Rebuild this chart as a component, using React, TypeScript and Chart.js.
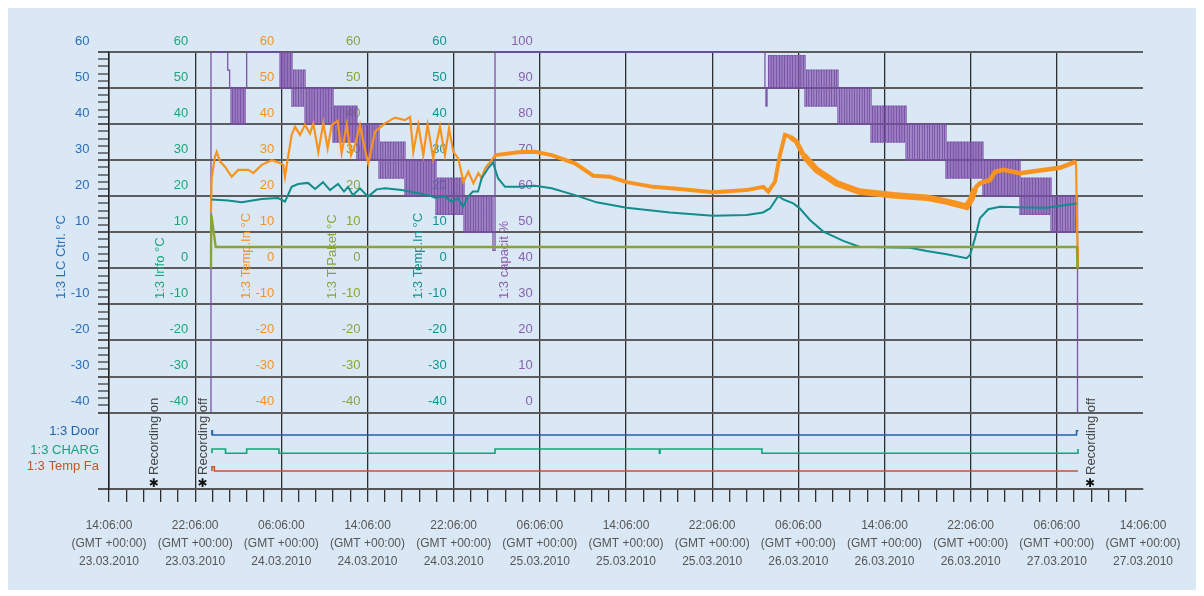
import React, { useEffect, useRef } from 'react';
import { Chart, registerables } from 'chart.js';

Chart.register(...registerables);

const FONT = "'Liberation Sans', Arial, Helvetica, sans-serif";

// x values: hours after 23.03.2010 14:06:00 (GMT +00:00)
const X_TICK_TIMES = ['14:06:00', '22:06:00', '06:06:00', '14:06:00', '22:06:00', '06:06:00', '14:06:00', '22:06:00', '06:06:00', '14:06:00', '22:06:00', '06:06:00', '14:06:00'];
const X_TICK_DATES = ['23.03.2010', '23.03.2010', '24.03.2010', '24.03.2010', '24.03.2010', '25.03.2010', '25.03.2010', '25.03.2010', '26.03.2010', '26.03.2010', '26.03.2010', '27.03.2010', '27.03.2010'];
const X_TZ = '(GMT +00:00)';
const TEMP_TICKS = [-40, -30, -20, -10, 0, 10, 20, 30, 40, 50, 60];
const CAP_TICKS = [0, 10, 20, 30, 40, 50, 60, 70, 80, 90, 100];

// 1:3 Temp.In °C (orange)
const orangeX = [9.47, 9.53, 9.84, 10.0, 10.31, 10.77, 11.39, 12.0, 12.93, 13.4,
  14.18, 15.11, 15.72, 16.18, 16.34, 16.65, 16.96, 17.27, 17.73, 18.2,
  18.66, 18.97, 19.43, 19.9, 20.3, 20.68, 21.23, 21.6, 22.07, 22.47,
  22.84, 23.3, 23.61, 24.07, 24.7, 25.62, 26.55, 27.48, 27.95, 28.25,
  28.72, 29.18, 29.58, 30.1, 30.73, 31.19, 31.57, 31.97, 32.43, 32.9,
  33.36, 33.83, 34.29, 34.61, 34.91, 35.53, 35.84, 38.0, 39.55, 41.1,
  43.26, 44.96, 46.51, 48.06, 50.53, 53.01, 56.1, 59.2, 60.74, 61.21,
  61.83, 62.29, 62.76, 63.22, 63.84, 64.46, 65.7, 67.55, 69.66, 72.81,
  75.91, 77.77, 79.62, 80.09, 80.4, 80.86, 81.79, 82.26, 83.03, 84.58,
  86.74, 88.29, 89.78, 89.92, 89.96];
const orangeY = [15.6, 25.0, 31.0, 32.3, 29.6, 28.2, 25.4, 27.3, 27.3, 26.4,
  28.7, 30.0, 29.4, 28.7, 25.4, 31.4, 37.0, 39.3, 37.0, 39.8,
  37.4, 40.2, 32.3, 40.2, 33.3, 39.8, 40.9, 31.9, 39.8, 31.4,
  34.2, 39.8, 35.1, 29.1, 37.9, 40.2, 41.8, 41.1, 42.0, 32.3,
  39.8, 31.4, 39.8, 30.5, 39.3, 31.4, 38.8, 32.3, 30.5, 24.0,
  26.8, 23.6, 26.4, 25.0, 27.7, 30.0, 31.4, 32.2, 32.3, 31.4,
  29.1, 25.7, 25.4, 23.9, 22.6, 22.0, 21.1, 21.7, 22.6, 21.3,
  24.0, 31.4, 37.0, 36.5, 35.1, 31.4, 27.3, 23.6, 21.3, 20.3,
  19.6, 18.5, 17.1, 19.4, 22.2, 23.6, 24.5, 26.8, 27.3, 26.4,
  27.3, 27.9, 29.6, 6.0, 0];

// 1:3 Temp.In °C (teal)
const tealX = [9.52, 11.05, 12.32, 14.18, 15.69, 16.34, 16.96, 17.55, 18.48, 19.13,
  19.87, 20.52, 21.26, 21.82, 22.19, 22.65, 23.3, 24.05, 24.85, 25.62,
  27.17, 28.69, 29.62, 30.27, 31.19, 31.82, 32.4, 32.87, 33.33, 33.79,
  34.26, 34.6, 35.19, 35.65, 36.12, 36.77, 37.97, 39.55, 41.1, 43.26,
  45.27, 48.06, 52.08, 56.07, 59.2, 60.72, 61.37, 62.14, 62.6, 63.53,
  64.15, 65.08, 66.32, 68.17, 69.66, 74.37, 75.91, 77.77, 79.62, 79.93,
  80.4, 80.86, 81.63, 82.72, 85.2, 87.05, 89.84];
const tealY = [19.1, 18.8, 18.3, 19.2, 19.5, 18.5, 22.6, 23.4, 23.7, 22.0,
  23.9, 21.7, 23.4, 21.3, 22.6, 20.3, 22.2, 19.9, 21.9, 22.2,
  21.7, 20.8, 20.3, 19.6, 19.9, 18.5, 19.4, 17.1, 19.9, 21.3,
  21.3, 25.0, 27.7, 29.4, 25.0, 22.6, 22.6, 22.9, 22.2, 20.3,
  18.3, 16.8, 15.5, 14.6, 14.8, 15.5, 16.6, 20.1, 19.1, 18.0,
  16.6, 13.4, 10.2, 7.6, 6.0, 5.7, 4.8, 3.9, 2.8, 3.7,
  8.3, 13.9, 16.4, 17.1, 16.9, 16.8, 18.0];

// 1:3 T-Paket °C (olive)
const paketX = [9.47, 9.49, 9.91, 89.87, 89.92];
const paketY = [0, 15.0, 5.9, 5.9, 0];

// 1:3 capacit % : single switch events (hour, new value)
const capEventX = [9.47, 9.47, 11.02, 11.2, 12.78, 35.65, 35.84, 60.9, 61.0, 89.92];
const capEventY = [0, 100, 95, 90, 100, 45, 100, 90, 85, 0];
// 1:3 capacit % : cycling bands (start hour, end hour, low %, high %, number of switches)
const capBandStart = [11.33, 15.88, 16.99, 18.2, 20.8, 23.02, 25.07, 27.48, 30.36, 32.96, 61.09, 64.62, 67.68, 70.75, 74.0, 77.71, 81.14, 84.58, 87.46];
const capBandEnd = [12.78, 16.99, 18.2, 20.8, 23.02, 25.07, 27.48, 30.36, 32.96, 35.65, 64.62, 67.68, 70.75, 74.0, 77.71, 81.14, 84.58, 87.46, 89.87];
const capBandLow = [80, 90, 85, 80, 75, 70, 65, 60, 55, 50, 90, 85, 80, 75, 70, 65, 60, 55, 50];
const capBandHigh = [90, 100, 95, 90, 85, 80, 75, 70, 65, 60, 99, 95, 90, 85, 80, 75, 70, 65, 60];
const capBandSwitches = [10, 8, 8, 18, 16, 14, 16, 20, 18, 18, 24, 20, 20, 22, 24, 24, 24, 20, 16];

// digital channels: switch events (hour, state 0/1)
const doorX = [9.56, 9.56, 9.6, 89.83, 90.0];
const doorS = [0, 1, 0, 1, 1];
const chargX = [9.56, 9.56, 10.82, 12.78, 15.78, 35.84, 51.1, 51.16, 60.62, 89.96];
const chargS = [0, 1, 0, 1, 0, 1, 0, 1, 0, 1];
const tempFaX = [9.56, 9.56, 9.78, 89.96];
const tempFaS = [0, 1, 0, 0];

// recording markers
const recX = [4.15, 8.68, 91.08];
const recLabel = ['Recording on', 'Recording off', 'Recording off'];

// ---- styles / layout constants ----
const BG = '#dae8f5';
const BLUE = '#2a6fb7';
const GREEN = '#1fa57b';
const ORANGE = '#f7931e';
const OLIVE = '#8aa338';
const TEAL = '#128d8c';
const DOOR_C = '#2262ad';
const CHARG_C = '#19a27a';
const FA_C = '#c2552e';
const X_MAX = 96;
const X_MINOR = 1.6;
const Y_MIN = -61.2;
const Y_MAX = 60;
const CAP_MIN = -21.2;
const CAP_MAX = 100;
const DIG_MAX = 437;
const DOOR_BASE = 54;
const CHARG_BASE = 35.7;
const FA_BASE = 18;
const DIG_HIGH = 4.3;

const pts = (xs: number[], ys: number[]) => xs.map((x, i) => ({ x, y: ys[i] }));
const digPts = (xs: number[], ss: number[], base: number) => xs.map((x, i) => ({ x, y: base + ss[i] * DIG_HIGH }));

function capPoints() {
  const out: { x: number; y: number }[] = pts(capEventX, capEventY);
  capBandStart.forEach((s, b) => {
    const n = capBandSwitches[b];
    const dt = (capBandEnd[b] - s) / n;
    for (let k = 0; k < n; k++) out.push({ x: s + k * dt, y: k % 2 === 0 ? capBandLow[b] : capBandHigh[b] });
  });
  return out.map((p, i) => ({ ...p, i })).sort((a, b) => a.x - b.x || a.i - b.i).map(({ x, y }) => ({ x, y }));
}

const EXTRA_AXES = [
  { title: '1:3 Info °C', color: GREEN, at: 8, values: TEMP_TICKS, scale: 'y' },
  { title: '1:3 Temp.In °C', color: '#f39325', at: 16, values: TEMP_TICKS, scale: 'y' },
  { title: '1:3 T-Paket °C', color: '#8aa43a', at: 24, values: TEMP_TICKS, scale: 'y' },
  { title: '1:3 Temp.In °C', color: '#16918f', at: 32, values: TEMP_TICKS, scale: 'y' },
  { title: '1:3 capacit %', color: '#8a5fae', at: 40, values: CAP_TICKS, scale: 'yCap' },
];

const bgPlugin = {
  id: 'bgFill',
  beforeDraw(chart: any) {
    const { ctx, width, height } = chart;
    ctx.save();
    ctx.fillStyle = BG;
    ctx.fillRect(0, 0, width, height);
    ctx.restore();
  },
};

function rotText(ctx: any, text: string, x: number, y: number) {
  ctx.save();
  ctx.translate(x, y);
  ctx.rotate(-Math.PI / 2);
  ctx.textAlign = 'left';
  ctx.textBaseline = 'middle';
  ctx.fillText(text, 0, 0);
  ctx.restore();
}

const axesTextPlugin = {
  id: 'axesText',
  beforeDatasetsDraw(chart: any) {
    const { ctx } = chart;
    const xs = chart.scales.x;
    ctx.save();
    ctx.font = `13px ${FONT}`;
    ctx.fillStyle = BLUE;
    rotText(ctx, '1:3 LC Ctrl. °C', 54, 295);
    EXTRA_AXES.forEach((a) => {
      const sc = chart.scales[a.scale];
      const gx = xs.getPixelForValue(a.at);
      ctx.fillStyle = a.color;
      ctx.textAlign = 'right';
      ctx.textBaseline = 'middle';
      a.values.forEach((v) => ctx.fillText(String(v), gx - 7, sc.getPixelForValue(v) - 11));
      rotText(ctx, a.title, gx - 35, 295);
    });
    ctx.restore();
  },
  afterDatasetsDraw(chart: any) {
    const { ctx } = chart;
    const xs = chart.scales.x;
    const yd = chart.scales.yDig;
    ctx.save();
    ctx.font = `13px ${FONT}`;
    ctx.textAlign = 'right';
    ctx.textBaseline = 'middle';
    ctx.fillStyle = DOOR_C;
    ctx.fillText('1:3 Door', 92, yd.getPixelForValue(DOOR_BASE + DIG_HIGH) + 1);
    ctx.fillStyle = CHARG_C;
    ctx.fillText('1:3 CHARG', 92, yd.getPixelForValue(CHARG_BASE + DIG_HIGH) + 1);
    ctx.fillStyle = FA_C;
    ctx.fillText('1:3 Temp Fa', 92, yd.getPixelForValue(FA_BASE + DIG_HIGH));
    recX.forEach((t, i) => {
      const px = xs.getPixelForValue(t);
      ctx.fillStyle = '#444';
      ctx.font = `13px ${FONT}`;
      rotText(ctx, recLabel[i], px + 1, 471);
      ctx.fillStyle = '#111';
      ctx.font = `bold 12px 'DejaVu Sans', sans-serif`;
      ctx.textAlign = 'center';
      ctx.textBaseline = 'middle';
      ctx.fillText('✱', px, 480);
    });
    ctx.restore();
  },
};

const orangeWidth = (x: number) => (x >= 64.4 && x < 80.2 ? 6.5 : x >= 62.9 && x < 64.4 ? 5 : x >= 80.2 && x < 89.7 ? 4.5 : x >= 35.8 && x < 62.9 ? 4 : 2.2);

export default function App() {
  const ref = useRef<HTMLCanvasElement>(null);
  useEffect(() => {
    if (!ref.current) return;
    const chart = new Chart(ref.current, {
      type: 'line',
      data: {
        datasets: [
          { label: '1:3 T-Paket °C', data: pts(paketX, paketY), yAxisID: 'y', borderColor: OLIVE, borderWidth: 2.4 },
          { label: '1:3 Temp.In °C', data: pts(tealX, tealY), yAxisID: 'y', borderColor: TEAL, borderWidth: 2 },
          {
            label: '1:3 Temp.In °C (orange)', data: pts(orangeX, orangeY), yAxisID: 'y', borderColor: ORANGE, borderWidth: 2.2,
            segment: { borderWidth: (c: any) => orangeWidth(c.p0.parsed.x) },
          },
          { label: '1:3 capacit %', data: capPoints(), yAxisID: 'yCap', borderColor: 'rgba(120,76,165,0.95)', borderWidth: 1.3, stepped: true },
          { label: '1:3 Door', data: digPts(doorX, doorS, DOOR_BASE), yAxisID: 'yDig', borderColor: DOOR_C, borderWidth: 1.6, stepped: true },
          { label: '1:3 CHARG', data: digPts(chargX, chargS, CHARG_BASE), yAxisID: 'yDig', borderColor: CHARG_C, borderWidth: 1.6, stepped: true },
          { label: '1:3 Temp Fa', data: digPts(tempFaX, tempFaS, FA_BASE), yAxisID: 'yDig', borderColor: FA_C, borderWidth: 1.6, stepped: true },
        ],
      },
      options: {
        animation: false,
        responsive: false,
        events: [],
        layout: { padding: { top: 48, right: 55, left: 0, bottom: 0 } },
        elements: { point: { radius: 0 }, line: { tension: 0, fill: false } },
        plugins: { legend: { display: false }, tooltip: { enabled: false }, title: { display: false } },
        scales: {
          x: {
            type: 'linear', min: 0, max: X_MAX,
            afterBuildTicks: (s: any) => {
              const t: any[] = [];
              for (let i = 0; i <= Math.round(X_MAX / X_MINOR); i++) t.push({ value: Math.round(i * X_MINOR * 1000) / 1000 });
              s.ticks = t;
            },
            afterFit: (s: any) => { s.height = 101; },
            grid: {
              color: (c: any) => (c.index % 5 === 0 && c.index < 60 ? '#2e2e2e' : 'rgba(0,0,0,0)'),
              lineWidth: 1.3,
              tickColor: (c: any) => (c.index >= 60 ? 'rgba(0,0,0,0)' : '#2e2e2e'),
              tickWidth: 1.3,
              tickLength: 13,
            },
            border: { display: true, color: '#555', width: 2 },
            ticks: {
              autoSkip: false, maxRotation: 0, minRotation: 0, padding: 15, color: '#555',
              font: { family: FONT, size: 12, lineHeight: '18px' },
              callback: (_v: any, i: number) => (i % 5 === 0 ? [X_TICK_TIMES[i / 5], X_TZ, X_TICK_DATES[i / 5]] : ''),
            },
          },
          y: {
            type: 'linear', position: 'left', min: Y_MIN, max: Y_MAX,
            afterBuildTicks: (s: any) => {
              const t: any[] = [{ value: Y_MIN }];
              for (let v = -40; v <= 60; v += 2) t.push({ value: v });
              s.ticks = t;
            },
            afterFit: (s: any) => { s.width = 102; },
            grid: {
              color: (c: any) => (!c.tick ? 'rgba(0,0,0,0)' : c.tick.value === Y_MIN ? '#555' : c.tick.value % 10 === 0 ? '#5c5c5c' : 'rgba(0,0,0,0)'),
              lineWidth: 2,
              tickColor: (c: any) => (c.tick && (c.tick.value % 10 === 0 || c.tick.value === Y_MIN) ? '#555' : '#333'),
              tickWidth: (c: any) => (c.tick && (c.tick.value % 10 === 0 || c.tick.value === Y_MIN) ? 2 : 1.2),
              tickLength: 11,
            },
            border: { display: true, color: '#222', width: 1.5 },
            ticks: {
              autoSkip: false, padding: 8.5, labelOffset: -11, color: BLUE,
              font: { family: FONT, size: 13 },
              callback: (v: any) => (TEMP_TICKS.includes(v) ? String(v) : ''),
            },
          },
          yCap: { type: 'linear', display: false, min: CAP_MIN, max: CAP_MAX },
          yDig: { type: 'linear', display: false, min: 0, max: DIG_MAX },
        },
      } as any,
      plugins: [bgPlugin, axesTextPlugin],
    });
    return () => chart.destroy();
  }, []);
  return (
    <div style={{ position: 'relative', left: -1, top: -4, width: 1191, height: 586 }}>
      <canvas ref={ref} width={1191} height={586} style={{ display: 'block' }} />
    </div>
  );
}
